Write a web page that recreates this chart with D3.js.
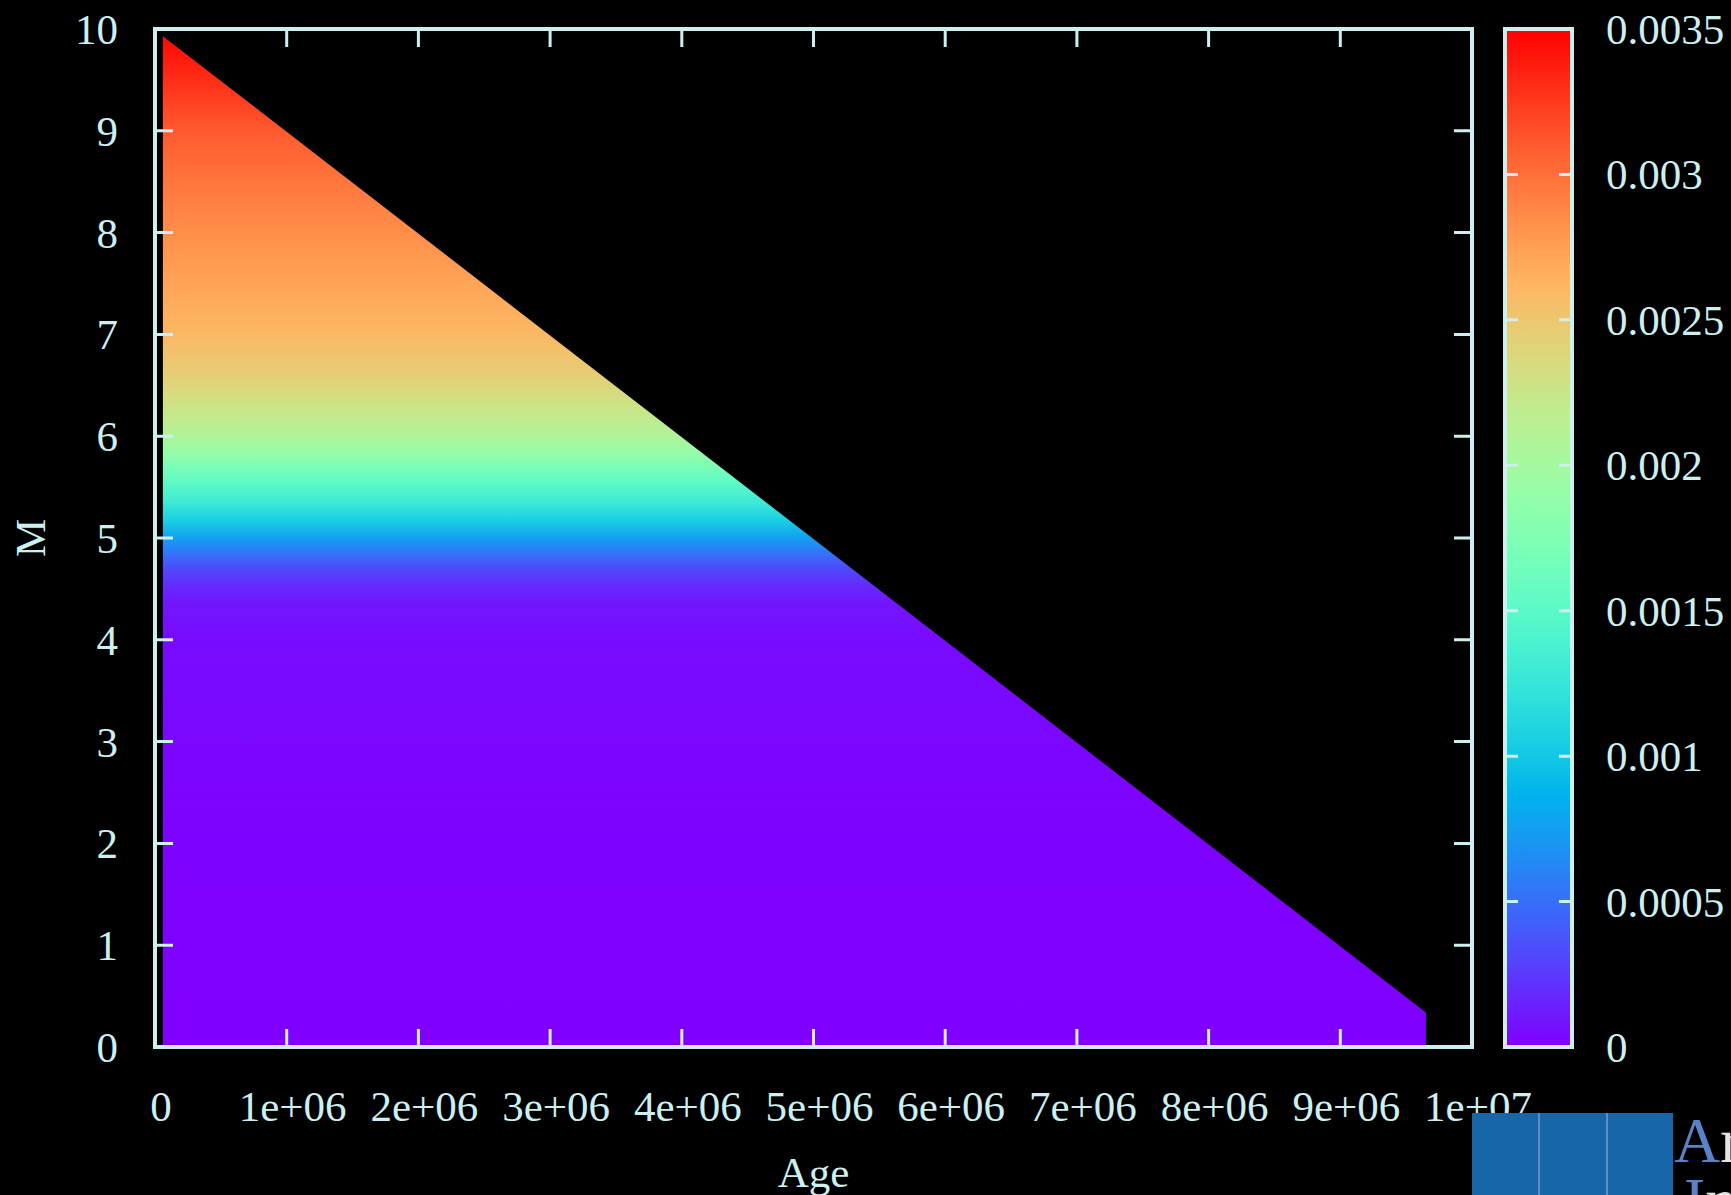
<!DOCTYPE html>
<html>
<head>
<meta charset="utf-8">
<script src="https://cdn.jsdelivr.net/npm/d3@7"></script>
<style>
  html, body { margin: 0; padding: 0; background: #000; }
  svg { display: block; }
</style>
</head>
<body>
<div id="chart"></div>
<script>
const massLevels = [0, 1, 2, 3, 4, 4.38, 4.55, 4.7, 4.85, 5.0, 5.17, 5.35, 5.56, 5.8, 6.0, 6.3, 6.6, 7, 7.5, 8, 8.5, 9, 9.5, 10];
const massValues = [0, 0.000005, 0.00001, 0.00003, 0.00005, 0.0001, 0.0002, 0.00033, 0.00052, 0.00076, 0.00105, 0.0013, 0.00154, 0.00185, 0.00208, 0.00228, 0.00245, 0.0026, 0.00272, 0.00284, 0.00297, 0.0031, 0.0033, 0.0035];

// outline of the filled region (age, M)
const edgeAge = [6e4, 6e4, 9.65e6, 9.65e6];
const edgeMass = [0, 9.93, 0.34, 0];

const xTicks = [0, 1e6, 2e6, 3e6, 4e6, 5e6, 6e6, 7e6, 8e6, 9e6, 1e7];
const yTicks = [0, 1, 2, 3, 4, 5, 6, 7, 8, 9, 10];
const cbTicks = [0, 0.0005, 0.001, 0.0015, 0.002, 0.0025, 0.003, 0.0035];
const cbLabels = ["0", "0.0005", "0.001", "0.0015", "0.002", "0.0025", "0.003", "0.0035"];

const width = 1731;
const height = 1195;
const margin = { top: 29, right: 259, bottom: 148, left: 155 };
const fg = "#cdeff0";
const font = "'Liberation Serif', 'Times New Roman', serif";

// gnuplot rgbformulae 33,13,10
const rainbow = (t) =>
  d3.rgb(
    255 * Math.min(1, Math.abs(2 * t - 0.5)),
    255 * Math.sin(Math.PI * t),
    255 * Math.cos((Math.PI / 2) * t)
  );
const color = d3.scaleSequential(rainbow).domain([0, 0.0035]);

const svg = d3
  .select("#chart")
  .append("svg")
  .attr("width", width)
  .attr("height", height)
  .attr("viewBox", [0, 0, width, height])
  .style("background", "#000");

const x = d3.scaleLinear().domain([0, 1e7]).range([margin.left, width - margin.right]);
const y = d3.scaleLinear().domain([0, 10]).range([height - margin.bottom, margin.top]);

const defs = svg.append("defs");

// map gradient along M
const fieldGrad = defs
  .append("linearGradient")
  .attr("id", "fieldGrad")
  .attr("gradientUnits", "userSpaceOnUse")
  .attr("x1", 0)
  .attr("x2", 0)
  .attr("y1", y(0))
  .attr("y2", y(10));
fieldGrad
  .selectAll("stop")
  .data(massLevels)
  .join("stop")
  .attr("offset", (d) => d / 10)
  .attr("stop-color", (d, i) => color(massValues[i]));

// colorbar gradient
const cbGrad = defs
  .append("linearGradient")
  .attr("id", "cbGrad")
  .attr("x1", "0%")
  .attr("x2", "0%")
  .attr("y1", "100%")
  .attr("y2", "0%");
cbGrad
  .selectAll("stop")
  .data(d3.range(0, 1.0001, 0.025))
  .join("stop")
  .attr("offset", (d) => d)
  .attr("stop-color", (d) => rainbow(d));

// filled region
const area = d3.line().x((d) => x(d[0])).y((d) => y(d[1]));
svg
  .append("path")
  .datum(edgeAge.map((a, i) => [a, edgeMass[i]]))
  .attr("fill", "url(#fieldGrad)")
  .attr("d", (d) => area(d) + "Z");

// frame + inward ticks on all sides
const plot = svg.append("g").attr("stroke", fg).attr("fill", "none");
const tickLen = 18;
plot
  .selectAll(".xt")
  .data(xTicks)
  .join("path")
  .attr("stroke-width", 3)
  .attr("d", (d) => `M${x(d)},${y(0)}v${-tickLen}M${x(d)},${y(10)}v${tickLen}`);
plot
  .selectAll(".yt")
  .data(yTicks)
  .join("path")
  .attr("stroke-width", 3)
  .attr("d", (d) => `M${x(0)},${y(d)}h${tickLen}M${x(1e7)},${y(d)}h${-tickLen}`);
plot
  .append("rect")
  .attr("x", x(0))
  .attr("y", y(10))
  .attr("width", x(1e7) - x(0))
  .attr("height", y(0) - y(10))
  .attr("stroke-width", 4);

// tick labels
const labels = svg.append("g").attr("fill", fg).style("font-family", font).style("font-size", "43px");
labels
  .selectAll(".xl")
  .data(xTicks)
  .join("text")
  .attr("x", (d) => x(d) + 6)
  .attr("y", 1121)
  .attr("text-anchor", "middle")
  .text((d) => (d === 0 ? "0" : d3.format(".0e")(d).replace(/e\+(\d)$/, "e+0$1")));
labels
  .selectAll(".yl")
  .data(yTicks)
  .join("text")
  .attr("x", 118)
  .attr("y", (d) => y(d))
  .attr("dy", "0.35em")
  .attr("text-anchor", "end")
  .text((d) => d);

// axis titles
labels
  .append("text")
  .attr("x", (x(0) + x(1e7)) / 2)
  .attr("y", 1187)
  .attr("text-anchor", "middle")
  .text("Age");
labels
  .append("text")
  .attr("transform", `translate(45,${(y(0) + y(10)) / 2}) rotate(-90)`)
  .attr("text-anchor", "middle")
  .text("M");

// colorbar
const cb = { x: 1505, w: 67 };
const cy = d3.scaleLinear().domain([0, 0.0035]).range([y(0), y(10)]);
svg
  .append("rect")
  .attr("x", cb.x)
  .attr("y", cy(0.0035))
  .attr("width", cb.w)
  .attr("height", cy(0) - cy(0.0035))
  .attr("fill", "url(#cbGrad)")
  .attr("stroke", fg)
  .attr("stroke-width", 4);
svg
  .append("g")
  .attr("stroke", fg)
  .attr("stroke-width", 3)
  .selectAll("path")
  .data(cbTicks)
  .join("path")
  .attr("d", (d) => `M${cb.x},${cy(d)}h13M${cb.x + cb.w},${cy(d)}h-13`);
labels
  .selectAll(".cl")
  .data(cbTicks)
  .join("text")
  .attr("x", 1606)
  .attr("y", (d) => cy(d))
  .attr("dy", "0.35em")
  .text((d, i) => cbLabels[i]);

// corner logo (cropped in the source)
const logo = svg.append("g");
logo
  .append("rect")
  .attr("x", 1472)
  .attr("y", 1113)
  .attr("width", 201)
  .attr("height", 90)
  .attr("fill", "#1766a9");
logo
  .selectAll("line")
  .data([1539, 1607])
  .join("line")
  .attr("x1", (d) => d)
  .attr("x2", (d) => d)
  .attr("y1", 1113)
  .attr("y2", 1195)
  .attr("stroke", "#5b8fc6")
  .attr("stroke-width", 2);
const logoText = logo.append("g").style("font-family", font).style("font-size", "64px");
const row1 = logoText.append("text").attr("x", 1674).attr("y", 1162);
row1.append("tspan").attr("fill", "#5a82c6").text("A");
row1.append("tspan").attr("fill", "#e4e4e4").text("r");
const row2 = logoText.append("text").attr("x", 1684).attr("y", 1222);
row2.append("tspan").attr("fill", "#5a82c6").text("I");
row2.append("tspan").attr("fill", "#e4e4e4").text("n");
</script>
</body>
</html>
